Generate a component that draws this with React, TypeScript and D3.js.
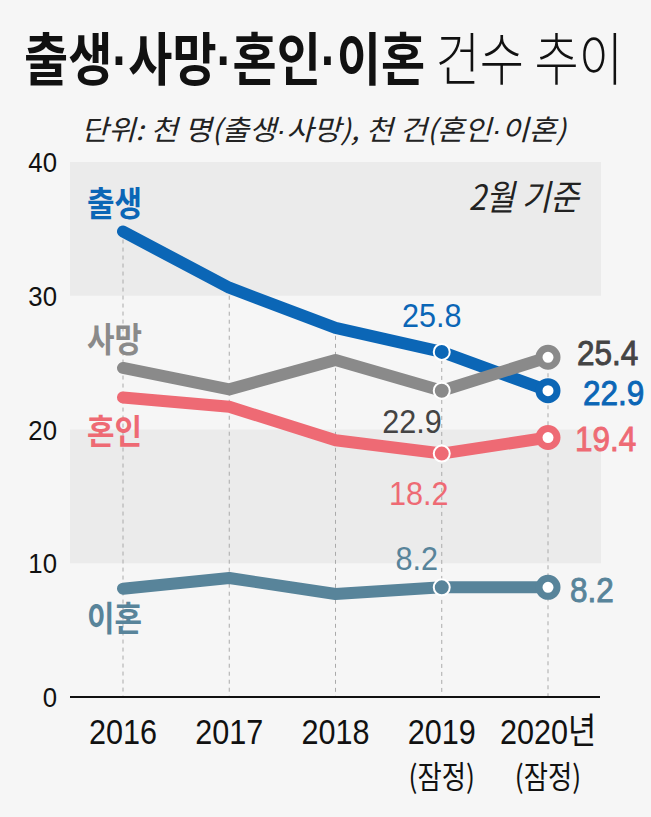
import React from "react";
import * as d3 from "d3";

const years = ["2016", "2017", "2018", "2019", "2020"];
const birth = [34.8, 30.6, 27.6, 25.8, 22.9];
const death = [24.6, 23.0, 25.2, 22.9, 25.4];
const marriage = [22.4, 21.7, 19.2, 18.2, 19.4];
const divorce = [8.1, 8.9, 7.7, 8.2, 8.2];
const seriesNames = ["출생", "사망", "혼인", "이혼"];
const yTicks = [0, 10, 20, 30, 40];
const xLabelLine1 = ["2016", "2017", "2018", "2019", "2020년"];
const xLabelLine2 = ["", "", "", "(잠정)", "(잠정)"];
const bandRanges = [[30, 40], [10, 20]];
const titleBold = ["출생", "사망", "혼인", "이혼"];
const titleLight = " 건수 추이";
const subtitleParts = ["단위: 천 명(출생", "·", "사망), 천 건(혼인", "·", "이혼)"];

const KR = "'Noto Sans CJK KR', 'Noto Sans', sans-serif";
const NUM = "'Liberation Sans', Arial, 'Noto Sans CJK KR', sans-serif";

type TP = {
  x: number; y: number; size: number; sx?: number; anchor?: string; weight?: number;
  fill?: string; family?: string; italic?: boolean; stroke?: string; sw?: number; children: React.ReactNode;
};
function T({ x, y, size, sx = 1, anchor = "start", weight = 400, fill = "#111", family = NUM, italic = false, stroke, sw = 0, children }: TP) {
  return (
    <text
      transform={`translate(${x},${y}) scale(${sx},1)`}
      fontSize={size}
      textAnchor={anchor as any}
      fontWeight={weight}
      fill={fill}
      stroke={stroke || "none"}
      strokeWidth={sw}
      fontFamily={family}
      fontStyle={italic ? "italic" : "normal"}
    >
      {children}
    </text>
  );
}

export default function App() {
  const W = 651, H = 817;
  const x = d3.scalePoint<string>().domain(years).range([123, 548]);
  const y = d3.scaleLinear().domain([0, 40]).range([697, 162]);
  const plotL = 70, plotR = 601;

  const series = [
    { name: seriesNames[0], values: birth, color: "#0b66b6", nameY: 216,
      l19: { dx: -10, dy: -25, anchor: "middle" }, l20: { dx: 35, dy: 14 }, l20fill: "#0b66b6" },
    { name: seriesNames[1], values: death, color: "#8a8a8a", nameY: 352,
      l19: { dx: 0, dy: 42, anchor: "end", fill: "#444" }, l20: { dx: 29, dy: 8 }, l20fill: "#444" },
    { name: seriesNames[2], values: marriage, color: "#ee6a74", nameY: 444,
      l19: { dx: -23, dy: 51, anchor: "middle" }, l20: { dx: 27, dy: 13 }, l20fill: "#ee6a74" },
    { name: seriesNames[3], values: divorce, color: "#58849a", nameY: 631,
      l19: { dx: -25, dy: -17, anchor: "middle" }, l20: { dx: 22, dy: 15 }, l20fill: "#58849a" },
  ];
  const drawOrder = [3, 2, 0, 1];

  const line = d3.line<number>()
    .x((_, i) => x(years[i]) as number)
    .y((v) => y(v));

  const maxPerYear = years.map((_, i) => d3.max(series, (s) => s.values[i]) as number);

  return (
    <svg width={W} height={H} style={{ position: "absolute", left: 0, top: 0, background: "#f6f6f6" }}>
      <rect x={0} y={0} width={W} height={H} fill="#f6f6f6" />
      {/* Title */}
      <text transform="translate(24,80) scale(0.842,1)" fontSize={57} fontFamily={KR} fill="#111">
        {titleBold.map((w, i) => (
          <React.Fragment key={w}>
            {i > 0 && <tspan fontWeight={700} fontFamily={NUM}>·</tspan>}
            <tspan fontWeight={700}>{w}</tspan>
          </React.Fragment>
        ))}
        <tspan fontWeight={300}>{titleLight}</tspan>
      </text>
      <text transform="translate(81,140) scale(1.06,1)" fontSize={28} fontFamily={KR} fill="#222" fontStyle="italic">
        {subtitleParts.map((p, i) => (
          <tspan key={i} fontFamily={p === "·" ? NUM : KR}>{p}</tspan>
        ))}
      </text>

      {/* bands */}
      {bandRanges.map(([a, b], i) => (
        <rect key={i} x={plotL} width={plotR - plotL} y={y(b)} height={y(a) - y(b)} fill="#ebebeb" />
      ))}

      <T x={579} y={210} size={35} sx={0.89} anchor="end" family={KR} italic fill="#222">2월 기준</T>

      {/* dashed verticals */}
      {years.map((yr, i) => (
        <line key={yr} x1={x(yr)} x2={x(yr)} y1={y(maxPerYear[i])} y2={y(0)} stroke="#aaa" strokeWidth={1} strokeDasharray="4,4" />
      ))}

      {/* y ticks */}
      {yTicks.map((t) => (
        <T key={t} x={57} y={y(t) + 10} size={28} sx={0.92} anchor="end" fill="#111">{t}</T>
      ))}

      {/* axis */}
      <line x1={plotL} x2={plotR - 1} y1={y(0)} y2={y(0)} stroke="#111" strokeWidth={2} />

      {/* x labels */}
      {years.map((yr, i) => (
        <g key={yr}>
          <T x={x(yr) as number} y={744} size={36} sx={0.85} anchor="middle" fill="#111">{xLabelLine1[i]}</T>
          {xLabelLine2[i] && (
            <T x={x(yr) as number} y={788} size={31} sx={0.85} anchor="middle" family={KR} fill="#111">{xLabelLine2[i]}</T>
          )}
        </g>
      ))}

      {/* lines */}
      {drawOrder.map((k) => {
        const s = series[k];
        return (
          <path key={s.name} d={line(s.values) as string} fill="none" stroke={s.color} strokeWidth={12}
            strokeLinejoin="round" strokeLinecap="round" />
        );
      })}

      {/* markers */}
      {series.map((s) => (
        <g key={s.name + "m"}>
          <circle cx={x(years[3])} cy={y(s.values[3])} r={8} fill={s.color} stroke="#fff" strokeWidth={2} />
          <circle cx={x(years[4])} cy={y(s.values[4])} r={9} fill="#fff" stroke={s.color} strokeWidth={7} />
        </g>
      ))}

      {/* value labels */}
      {series.map((s) => (
        <g key={s.name + "l"}>
          <T x={(x(years[3]) as number) + s.l19.dx} y={y(s.values[3]) + s.l19.dy} size={34} sx={0.9}
            anchor={s.l19.anchor} fill={(s.l19 as any).fill || s.color} weight={400}>
            {s.values[3].toFixed(1)}
          </T>
          <T x={(x(years[4]) as number) + s.l20.dx} y={y(s.values[4]) + s.l20.dy} size={35} sx={0.9}
            anchor="start" fill={s.l20fill} stroke={s.l20fill} sw={0.9} weight={400}>
            {s.values[4].toFixed(1)}
          </T>
        </g>
      ))}

      {/* series names */}
      {series.map((s) => (
        <T key={s.name + "n"} x={87} y={s.nameY} size={34} sx={0.88} family={KR} weight={700} fill={s.color}>{s.name}</T>
      ))}
    </svg>
  );
}
